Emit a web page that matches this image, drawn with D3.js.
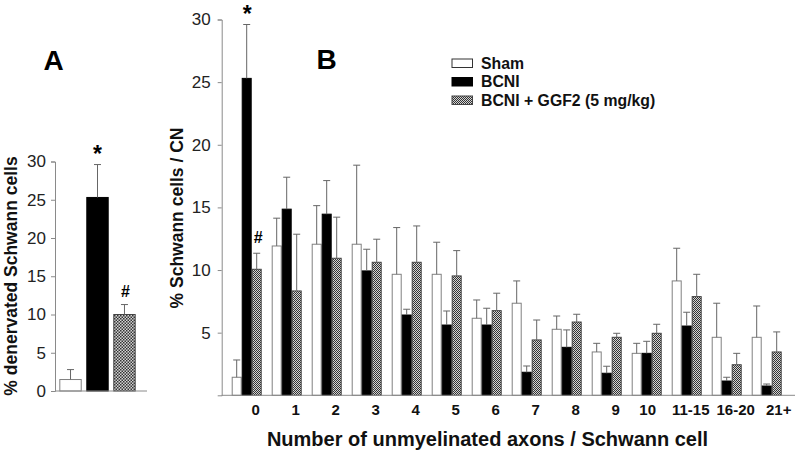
<!DOCTYPE html>
<html>
<head>
<meta charset="utf-8">
<script src="https://cdn.jsdelivr.net/npm/d3@7"></script>
<style>
  html, body { margin: 0; padding: 0; background: #fff; }
  svg { display: block; font-family: "Liberation Sans", Arial, sans-serif; }
</style>
</head>
<body>
<svg id="chart" width="800" height="456"></svg>
<script>
// ---------- data ----------
const categories = ["0","1","2","3","4","5","6","7","8","9","10","11-15","16-20","21+"];
const seriesNames = ["Sham", "BCNI", "BCNI + GGF2 (5 mg/kg)"];
const shamMean = [1.44, 11.92, 12.06, 12.06, 9.66, 9.66, 6.15, 7.35, 5.27, 3.46, 3.35, 9.13, 4.63, 4.63];
const shamErr  = [1.38, 2.22, 3.08, 6.31, 3.73, 2.56, 1.46, 1.78, 1.06, 0.69, 0.80, 2.61, 2.72, 2.50];
const bcniMean = [25.3, 14.86, 14.46, 9.93, 6.41, 5.61, 5.61, 1.84, 3.83, 1.76, 3.35, 5.53, 1.14, 0.74];
const bcniErr  = [4.3, 2.55, 2.68, 1.73, 0.46, 1.12, 1.34, 0.50, 1.39, 0.56, 0.96, 1.10, 0.30, 0.16];
const ggfMean  = [10.06, 8.33, 10.94, 10.62, 10.62, 9.53, 6.76, 4.42, 5.85, 4.63, 4.95, 7.88, 2.44, 3.46];
const ggfErr   = [1.28, 4.53, 3.28, 1.84, 2.90, 2.02, 1.39, 1.59, 0.62, 0.32, 0.72, 1.78, 0.91, 1.60];

const panelAMean = [1.5, 25.3, 10.0];
const panelAErr  = [1.3, 4.3, 1.3];

const yTicksA = [0, 5, 10, 15, 20, 25, 30];
const yTicksB = [5, 10, 15, 20, 25, 30];

// ---------- setup ----------
const svg = d3.select("#chart");
svg.append("rect").attr("width", 800).attr("height", 456).attr("fill", "#fff");

const defs = svg.append("defs");
function checker(id, size) {
  const p = defs.append("pattern").attr("id", id).attr("patternUnits", "userSpaceOnUse")
    .attr("width", size * 2).attr("height", size * 2);
  p.append("rect").attr("width", size * 2).attr("height", size * 2).attr("fill", "#d4d4d4");
  p.append("rect").attr("x", 0).attr("y", 0).attr("width", size).attr("height", size).attr("fill", "#333");
  p.append("rect").attr("x", size).attr("y", size).attr("width", size).attr("height", size).attr("fill", "#333");
}
checker("chkB", 1);
checker("chkA", 1.5);

const fills = ["#ffffff", "#000000", "url(#chkB)"];
const strokes = ["#808080", "#000000", "#444"];
const axisColor = "#8a8a8a";
const errColor = "#666";
const FONT = "Liberation Sans, Arial, sans-serif";

// ---------- Panel B ----------
const yB = d3.scaleLinear().domain([0, 30]).range([395.3, 19.5]);
const xB = d3.scaleBand().domain(categories).range([221.7, 791.7]).paddingInner(0.25).paddingOuter(0.25).align(0.5);
const xSub = d3.scaleBand().domain(d3.range(3)).range([0, xB.bandwidth()]);

const seriesB = [
  categories.map((c, i) => ({ c, v: shamMean[i], e: shamErr[i] })),
  categories.map((c, i) => ({ c, v: bcniMean[i], e: bcniErr[i] })),
  categories.map((c, i) => ({ c, v: ggfMean[i], e: ggfErr[i] }))
];

const gB = svg.append("g");
seriesB.forEach((ser, s) => {
  const g = gB.append("g");
  g.selectAll("rect").data(ser).join("rect")
    .attr("x", d => xB(d.c) + xSub(s) + 0.5)
    .attr("y", d => yB(d.v))
    .attr("width", xSub.bandwidth() - 1)
    .attr("height", d => yB(0) - yB(d.v))
    .attr("fill", fills[s]).attr("stroke", strokes[s]).attr("stroke-width", 1);
  const eb = g.selectAll("g.eb").data(ser).join("g").attr("class", "eb");
  eb.append("line")
    .attr("x1", d => xB(d.c) + xSub(s) + xSub.bandwidth() / 2)
    .attr("x2", d => xB(d.c) + xSub(s) + xSub.bandwidth() / 2)
    .attr("y1", d => yB(d.v)).attr("y2", d => yB(d.v + d.e))
    .attr("stroke", errColor).attr("stroke-width", 1);
  eb.append("line")
    .attr("x1", d => xB(d.c) + xSub(s) + xSub.bandwidth() / 2 - 3.5)
    .attr("x2", d => xB(d.c) + xSub(s) + xSub.bandwidth() / 2 + 3.5)
    .attr("y1", d => yB(d.v + d.e)).attr("y2", d => yB(d.v + d.e))
    .attr("stroke", errColor).attr("stroke-width", 1);
});

// y axis B
const yAxisB = svg.append("g").attr("transform", "translate(221.7,0)")
  .call(d3.axisLeft(yB).tickValues(yTicksB).tickSize(4).tickPadding(7).tickFormat(d3.format("d")));
yAxisB.select(".domain").attr("stroke", axisColor);
yAxisB.selectAll(".tick line").attr("stroke", axisColor);
yAxisB.selectAll(".tick text").attr("font-size", 17).attr("fill", "#222").attr("font-family", FONT);

// x axis B
svg.append("line").attr("x1", 221.7).attr("x2", 795).attr("y1", yB(0)).attr("y2", yB(0))
  .attr("stroke", axisColor).attr("stroke-width", 1);
const labelNudge = { "10": -8, "11-15": -5, "21+": 3 };
const xAxisB = svg.append("g").attr("transform", `translate(0,${yB(0)})`)
  .call(d3.axisBottom(xB).tickSize(0).tickPadding(9));
xAxisB.select(".domain").remove();
xAxisB.selectAll(".tick text")
  .attr("font-size", 15).attr("font-weight", "bold").attr("fill", "#111").attr("font-family", FONT)
  .attr("dx", d => 9 + (labelNudge[d] || 0));

// axis titles B
svg.append("text").attr("x", 487.5).attr("y", 446).attr("text-anchor", "middle")
  .attr("font-size", 20).attr("font-weight", "bold").attr("fill", "#111")
  .text("Number of unmyelinated axons / Schwann cell");
svg.append("text").attr("transform", "translate(182.5,218) rotate(-90)").attr("text-anchor", "middle")
  .attr("font-size", 17.5).attr("font-weight", "bold").attr("fill", "#111")
  .text("% Schwann cells / CN");

// annotations B
svg.append("text").attr("x", xB("0") + xSub(1) + xSub.bandwidth() / 2 + 0.5).attr("y", yB(29.6) - 3)
  .attr("text-anchor", "middle").attr("font-size", 23).attr("font-weight", "bold").text("*");
svg.append("text").attr("x", xB("0") + xSub(2) + xSub.bandwidth() / 2 + 1.5).attr("y", yB(11.34) - 10)
  .attr("text-anchor", "middle").attr("font-size", 16).attr("font-weight", "bold").text("#");
svg.append("text").attr("x", 326.7).attr("y", 68.5).attr("text-anchor", "middle")
  .attr("font-size", 28).attr("font-weight", "bold").text("B");

// legend
const legend = svg.append("g");
seriesNames.forEach((n, i) => {
  const y = 59 + i * 18.5;
  legend.append("rect").attr("x", 452).attr("y", y).attr("width", 20.5).attr("height", 8.5)
    .attr("fill", fills[i]).attr("stroke", i === 0 ? "#333" : strokes[i]).attr("stroke-width", 1);
  legend.append("text").attr("x", 481).attr("y", y + 9.5).attr("font-size", 15.8).attr("font-weight", "bold")
    .attr("fill", "#111").text(n);
});

// ---------- Panel A ----------
const yA = d3.scaleLinear().domain([0, 30]).range([391, 161.5]);
const xA = d3.scaleBand().domain(d3.range(3)).range([55, 140]).paddingInner(0.17).paddingOuter(0.16).align(0.5);
const fillsA = ["#ffffff", "#000000", "url(#chkA)"];
const dataA = panelAMean.map((v, i) => ({ i, v, e: panelAErr[i] }));

const gA = svg.append("g");
gA.selectAll("rect").data(dataA).join("rect")
  .attr("x", d => xA(d.i) + 0.5).attr("y", d => yA(d.v))
  .attr("width", xA.bandwidth() - 1).attr("height", d => yA(0) - yA(d.v))
  .attr("fill", d => fillsA[d.i]).attr("stroke", d => strokes[d.i]).attr("stroke-width", 1);
gA.selectAll("line.v").data(dataA).join("line").attr("class", "v")
  .attr("x1", d => xA(d.i) + xA.bandwidth() / 2).attr("x2", d => xA(d.i) + xA.bandwidth() / 2)
  .attr("y1", d => yA(d.v)).attr("y2", d => yA(d.v + d.e))
  .attr("stroke", errColor).attr("stroke-width", 1);
gA.selectAll("line.c").data(dataA).join("line").attr("class", "c")
  .attr("x1", d => xA(d.i) + xA.bandwidth() / 2 - 3.5).attr("x2", d => xA(d.i) + xA.bandwidth() / 2 + 3.5)
  .attr("y1", d => yA(d.v + d.e)).attr("y2", d => yA(d.v + d.e))
  .attr("stroke", errColor).attr("stroke-width", 1);

const yAxisA = svg.append("g").attr("transform", "translate(55,0)")
  .call(d3.axisLeft(yA).tickValues(yTicksA).tickSize(4).tickPadding(5).tickFormat(d3.format("d")));
yAxisA.select(".domain").attr("stroke", axisColor);
yAxisA.selectAll(".tick line").attr("stroke", axisColor);
yAxisA.selectAll(".tick text").attr("font-size", 17).attr("fill", "#222").attr("font-family", FONT);
svg.append("line").attr("x1", 55).attr("x2", 147).attr("y1", yA(0)).attr("y2", yA(0))
  .attr("stroke", axisColor).attr("stroke-width", 1);

svg.append("text").attr("transform", "translate(17,276) rotate(-90)").attr("text-anchor", "middle")
  .attr("font-size", 17.5).attr("font-weight", "bold").attr("fill", "#111")
  .text("% denervated Schwann cells");
svg.append("text").attr("x", xA(1) + xA.bandwidth() / 2).attr("y", yA(29.6) - 3)
  .attr("text-anchor", "middle").attr("font-size", 23).attr("font-weight", "bold").text("*");
svg.append("text").attr("x", xA(2) + xA.bandwidth() / 2 + 1).attr("y", yA(11.3) - 8)
  .attr("text-anchor", "middle").attr("font-size", 16).attr("font-weight", "bold").text("#");
svg.append("text").attr("x", 53.5).attr("y", 69.5).attr("text-anchor", "middle")
  .attr("font-size", 28).attr("font-weight", "bold").text("A");
</script>
</body>
</html>
